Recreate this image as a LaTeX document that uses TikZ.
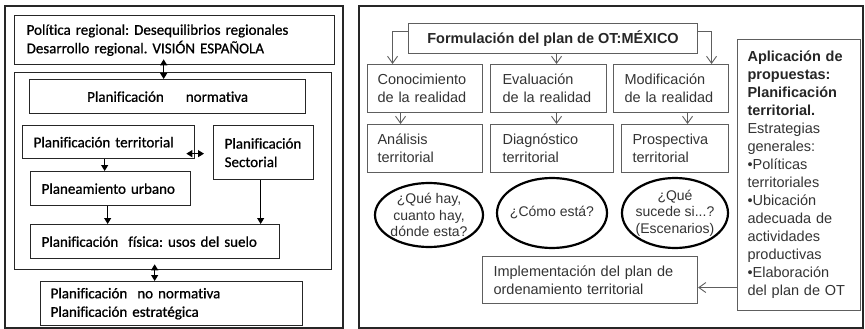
\documentclass[tikz,border=0pt]{standalone}
\usepackage{fontspec}
\newfontfamily\izqfont[Ligatures=NoCommon,FakeBold=0.8]{Carlito}
\newfontfamily\derfont{Liberation Sans}
\usetikzlibrary{arrows.meta,shapes.geometric}
\frenchspacing
\definecolor{marco}{HTML}{262626}
\definecolor{linea}{HTML}{5E5E5E}
\definecolor{texto}{HTML}{333333}
\tikzset{
  marcobox/.style={draw=marco, line width=2pt},
  izqbox/.style={draw=marco, line width=1.3pt, anchor=north west, inner ysep=0pt,
    align=left, font=\izqfont\fontsize{15}{18.5}\selectfont, text=black},
  derbox/.style={draw=linea, line width=1.1pt, anchor=north west, inner ysep=0pt,
    align=left, font=\derfont\fontsize{14.5}{18}\selectfont, text=texto},
  oval/.style={ellipse, draw=black, line width=2.2pt, inner sep=0pt},
  ovaltxt/.style={font=\derfont\fontsize{14}{16.5}\selectfont, text=texto, align=center},
  flecha/.style={-{Triangle[width=7pt,length=6pt]}, line width=1.1pt, black},
  flechas/.style={{Triangle[width=7pt,length=6pt]}-{Triangle[width=7pt,length=6pt]}, line width=1.1pt, black},
  pico/.style={-{Straight Barb[width=10pt,length=7pt]}, line width=0.9pt, draw=linea},
}
\begin{document}
\begin{tikzpicture}[x=1pt, y=-1pt]
  \useasboundingbox (0,0) rectangle (865,329);

  % marcos
  \draw[marcobox] (5,6) rectangle (343,328);
  \draw[marcobox] (359,6) rectangle (863,328);

  % panel izquierdo
  \node[izqbox, text width=296pt, inner xsep=12pt, minimum height=49pt] (politica) at (14,15)
    {Política regional: Desequilibrios regionales\\Desarrollo regional. VISIÓN ESPAÑOLA};
  \node[izqbox, minimum width=317pt, minimum height=197pt] (nucleo) at (14,72) {};
  \node[izqbox, minimum width=276pt, minimum height=34pt] (normativa) at (29,79)
    {Planificación\hspace{22pt}normativa};
  \node[izqbox, text width=150pt, inner xsep=11pt, minimum height=33pt] (territorial) at (22,125)
    {Planificación territorial};
  \node[izqbox, text width=78pt, inner xsep=11pt, minimum height=54pt] (sectorial) at (213,125)
    {Planificación\\Sectorial};
  \node[izqbox, text width=138pt, inner xsep=11pt, minimum height=34pt] (planeamiento) at (30,171)
    {Planeamiento urbano};
  \node[izqbox, text width=227pt, inner xsep=11pt, minimum height=34pt] (fisica) at (30,224)
    {Planificación~ física: usos del suelo};
  \node[izqbox, text width=242pt, inner xsep=10pt, minimum height=44pt] (noNorm) at (40,281)
    {Planificación~ no normativa\\Planificación estratégica};

  \draw[flechas] ([xshift=-11pt,yshift=6pt]politica.south) -- ([xshift=-11pt]politica.south |- normativa.north);
  \draw[flechas] ([xshift=-9pt,yshift=-11.5pt]territorial.east) -- ([xshift=-9pt,yshift=-11.5pt]territorial.east -| sectorial.west);
  \draw[flecha] ([xshift=-4pt]territorial.south) -- ([xshift=-4pt]territorial.south |- planeamiento.north);
  \draw[flecha] ([xshift=-3pt]planeamiento.south) -- ([xshift=-3pt]planeamiento.south |- fisica.north);
  \draw[flecha] ([xshift=-3pt]sectorial.south) -- ([xshift=-3pt]sectorial.south |- fisica.north);
  \draw[flechas] ([xshift=-18.5pt,yshift=6pt]nucleo.south) -- ([xshift=-18.5pt]nucleo.south |- noNorm.north);

  % panel derecho
  \node[derbox, font=\derfont\bfseries\fontsize{14.5}{18}\selectfont, text=marco,
    minimum width=289pt, minimum height=30pt] (form) at (408,23) {Formulación del plan de OT:MÉXICO};
  \node[derbox, text width=95pt, inner xsep=10pt, minimum height=48pt] (conoc) at (367,64)
    {Conocimiento\\de la realidad};
  \node[derbox, text width=92pt, inner xsep=12pt, minimum height=48pt] (eval) at (490,64)
    {Evaluación\\de la realidad};
  \node[derbox, text width=93pt, inner xsep=11pt, minimum height=48pt] (modif) at (613,64)
    {Modificación\\de la realidad};
  \node[derbox, text width=95pt, inner xsep=10pt, minimum height=48pt] (analisis) at (367,124)
    {Análisis\\territorial};
  \node[derbox, text width=99pt, inner xsep=12pt, minimum height=48pt] (diag) at (490,124)
    {Diagnóstico\\territorial};
  \node[derbox, text width=85pt, inner xsep=11pt, minimum height=48pt] (prosp) at (621,124)
    {Prospectiva\\territorial};

  \node[oval, minimum width=108pt, minimum height=64pt] (queHay) at (429,215) {};
  \node[ovaltxt] (queHayTxt) at (queHay) {¿Qué hay,\\cuanto hay,\\dónde esta?};
  \node[oval, minimum width=110pt, minimum height=70pt] (como) at (552,213) {};
  \node[ovaltxt] (comoTxt) at (como) {¿Cómo está?};
  \node[oval, minimum width=106pt, minimum height=70pt] (sucede) at (675,213) {};
  \node[ovaltxt] (sucedeTxt) at (sucede) {¿Qué\\sucede si...?\\(Escenarios)};

  \node[derbox, text width=193pt, inner xsep=11pt, minimum height=47pt] (impl) at (482,256)
    {Implementación del plan de\\ordenamiento territorial};
  \node[derbox, text width=103pt, inner xsep=10pt, minimum height=271pt] (aplic) at (737,39)
    {\bfseries\color{marco}Aplicación de\\propuestas:\\Planificación\\territorial.\\
     \mdseries\color{texto}Estrategias\\generales:\\•Políticas\\territoriales\\•Ubicación\\adecuada de\\actividades\\productivas\\•Elaboración\\del plan de OT};

  \draw[pico] ([yshift=7pt]form.west) -| ([xshift=-32.5pt]conoc.north);
  \draw[pico] ([yshift=7pt]form.east) -| ([xshift=40.5pt]modif.north);
  \draw[pico] ([xshift=3.5pt]form.south) -- ([xshift=3.5pt]form.south |- eval.north);
  \draw[pico] ([xshift=-24.5pt]conoc.south) -- ([xshift=-24.5pt]analisis.north);
  \draw[pico] ([xshift=8pt]eval.south) -- ([xshift=8pt]eval.south |- diag.north);
  \draw[pico] ([xshift=16.5pt]modif.south) -- ([xshift=16.5pt]modif.south |- prosp.north);
  \draw[pico] ([yshift=-7.5pt]impl.east -| aplic.west) -- ([yshift=-7.5pt]impl.east);
\end{tikzpicture}
\end{document}
